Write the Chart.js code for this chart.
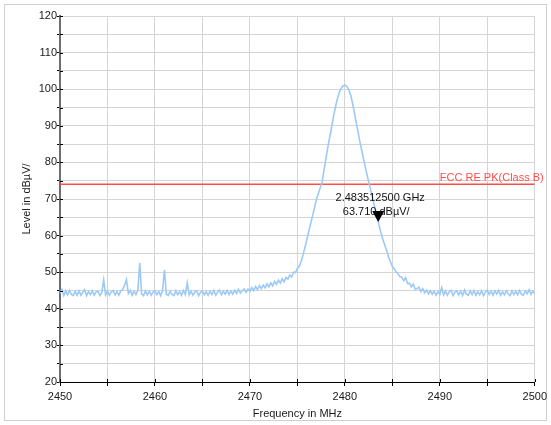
<!DOCTYPE html>
<html>
<head>
<meta charset="utf-8">
<script src="https://cdn.jsdelivr.net/npm/chart.js"></script>
<style>
  html, body { margin: 0; padding: 0; background: #fff; }
  #wrap { width: 551px; height: 425px; }
</style>
</head>
<body>
<div id="wrap"><canvas id="spectrum"></canvas></div>
<script>
// sweep: 2450 MHz .. 2500 MHz, one reading every 0.2 MHz
const startMHz = 2450;
const stepMHz = 0.2;

const levels = [
  44.2, 45.3, 43.6, 44.9, 43.8, 45.0, 43.9, 43.6, 44.8, 43.7,
  44.9, 43.7, 44.5, 45.2, 43.6, 44.7, 43.9, 44.9, 43.7, 44.6,
  44.8, 43.6, 44.4, 47.9, 43.8, 44.9, 43.7, 44.6, 45.0, 43.8,
  44.7, 43.7, 44.9, 45.3, 46.4, 48.0, 44.2, 45.0, 43.7, 44.8,
  43.9, 45.0, 52.6, 44.0, 43.6, 44.9, 43.8, 44.8, 43.7, 44.6,
  44.9, 43.8, 44.7, 43.6, 44.9, 50.6, 44.0, 43.7, 44.8, 43.9,
  43.6, 44.9, 43.8, 44.7, 43.7, 45.0, 43.9, 47.1, 43.8, 44.8,
  43.7, 44.6, 44.9, 43.6, 44.5, 44.9, 43.8, 44.7, 43.7, 44.8,
  43.9, 45.0, 43.7, 44.6, 45.1, 43.8, 44.8, 44.0, 45.0, 43.9,
  44.8, 44.0, 45.1, 44.2, 45.3, 44.3, 45.0, 45.4, 44.5, 45.4,
  44.8, 45.8, 45.0, 46.1, 45.2, 46.3, 45.5, 46.5, 45.7, 46.8,
  46.0, 47.1, 46.3, 47.5, 46.7, 47.8, 47.0, 48.2, 47.4, 48.6,
  48.1, 49.2, 48.7, 50.0, 49.9, 51.0, 51.6, 53.0, 54.8, 56.8,
  59.0, 61.2, 63.3, 65.4, 67.6, 69.9, 71.5, 73.0, 74.5, 77.8,
  81.0, 84.0, 86.8, 89.6, 92.5, 95.0, 97.3, 99.0, 100.2, 100.9,
  101.1, 100.8, 99.9, 98.5, 96.3, 93.7, 90.8, 88.2, 85.4, 82.9,
  80.5, 78.1, 75.9, 73.8, 71.6, 69.4, 67.2, 65.0, 62.8, 60.8,
  59.0, 57.4, 55.9, 54.2, 52.8, 51.6, 50.9, 50.1, 49.6, 48.8,
  48.6, 47.7, 48.5, 46.9, 47.0, 46.0, 46.8, 45.4, 45.5, 45.9,
  44.7, 45.5, 44.4, 45.1, 44.1, 44.9, 44.0, 44.8, 43.7, 44.7,
  43.9, 45.8, 43.8, 44.9, 43.7, 44.7, 45.0, 43.6, 44.6, 44.9,
  43.8, 44.8, 43.6, 45.1, 44.0, 43.7, 44.9, 43.9, 45.0, 43.7,
  44.7, 43.8, 44.9, 43.6, 44.6, 45.1, 43.9, 44.8, 43.7, 44.9,
  44.0, 45.0, 43.7, 44.7, 43.8, 44.9, 44.1, 43.6, 44.9, 43.9,
  44.8, 43.8, 45.0, 44.0, 43.7, 44.9, 44.1, 45.2, 43.9, 44.8,
  44.2
];

// limit line
const limitName = 'FCC RE PK(Class B)';
const limitLevel = 74;

// marker
const markerFreq = 2483.5125;   // MHz
const markerLevel = 63.71;
const markerLabels = ['2.483512500 GHz', '63.710 dBµV/'];

const FONT = '11px "Liberation Sans", Arial, sans-serif';

const traceData = levels.map((v, i) => ({ x: startMHz + i * stepMHz, y: v }));

// frame round the whole picture + inner tick marks + limit label + marker
const extrasPlugin = {
  id: 'extras',
  beforeDraw(chart) {
    const ctx = chart.ctx;
    ctx.save();
    ctx.fillStyle = '#fff';
    ctx.fillRect(0, 0, chart.width, chart.height);
    ctx.strokeStyle = '#cfcfcf';
    ctx.lineWidth = 1;
    ctx.strokeRect(4.5, 4.5, chart.width - 9, chart.height - 9);
    ctx.restore();
  },
  afterDatasetsDraw(chart) {
    const ctx = chart.ctx;
    const xs = chart.scales.x, ys = chart.scales.y;
    const area = chart.chartArea;
    ctx.save();

    // short tick marks on the inner side of the axes
    ctx.strokeStyle = '#000';
    ctx.lineWidth = 1;
    ys.ticks.forEach(t => {
      const y = Math.round(ys.getPixelForValue(t.value)) + 0.5;
      ctx.beginPath(); ctx.moveTo(area.left, y); ctx.lineTo(area.left + 3, y); ctx.stroke();
    });
    xs.ticks.forEach(t => {
      const x = Math.round(xs.getPixelForValue(t.value)) + 0.5;
      ctx.beginPath(); ctx.moveTo(x, area.bottom); ctx.lineTo(x, area.bottom - 3); ctx.stroke();
    });

    // limit label
    ctx.font = FONT;
    ctx.fillStyle = '#ff4d4d';
    ctx.textAlign = 'right';
    ctx.textBaseline = 'bottom';
    ctx.fillText(limitName, area.right + 9, ys.getPixelForValue(limitLevel) - 1);

    // marker triangle, tip on the reading
    const mx = xs.getPixelForValue(markerFreq);
    const my = ys.getPixelForValue(markerLevel);
    ctx.fillStyle = '#000';
    ctx.beginPath();
    ctx.moveTo(mx, my);
    ctx.lineTo(mx - 6, my - 11);
    ctx.lineTo(mx + 6, my - 11);
    ctx.closePath();
    ctx.fill();

    ctx.fillStyle = '#111';
    ctx.textAlign = 'center';
    ctx.textBaseline = 'middle';
    ctx.fillText(markerLabels[0], mx + 2, my - 24);
    ctx.fillText(markerLabels[1], mx - 2, my - 10);
    ctx.restore();
  }
};

new Chart(document.getElementById('spectrum'), {
  type: 'line',
  data: {
    datasets: [
      {
        label: 'Level',
        data: traceData,
        borderColor: '#9ccaf7',
        borderWidth: 1.6,
        pointRadius: 0,
        tension: 0,
        fill: false
      },
      {
        label: limitName,
        data: [{ x: startMHz, y: limitLevel }, { x: 2500, y: limitLevel }],
        borderColor: '#ff4d4d',
        borderWidth: 1.5,
        pointRadius: 0,
        fill: false
      }
    ]
  },
  options: {
    responsive: true,
    maintainAspectRatio: false,
    animation: false,
    layout: { padding: { left: 16, top: 16, right: 15, bottom: 0 } },
    plugins: {
      legend: { display: false },
      tooltip: { enabled: false }
    },
    scales: {
      x: {
        type: 'linear',
        min: 2450,
        max: 2500,
        afterFit: s => { s.height = 43; },
        ticks: {
          stepSize: 5,
          autoSkip: false,
          maxRotation: 0,
          padding: 4,
          color: '#1a1a1a',
          font: { family: '"Liberation Sans", Arial, sans-serif', size: 11 },
          callback: v => (v % 10 === 0 ? String(v) : '')
        },
        grid: { color: '#d4d4d4', tickColor: '#000', tickLength: 4 },
        border: { color: '#000', width: 1 },
        title: {
          display: true,
          text: 'Frequency in MHz',
          color: '#1a1a1a',
          padding: { top: 2, bottom: 4 },
          font: { family: '"Liberation Sans", Arial, sans-serif', size: 11 }
        }
      },
      y: {
        min: 20,
        max: 120,
        afterFit: s => { s.width = 44; },
        ticks: {
          stepSize: 5,
          autoSkip: false,
          padding: 0,
          color: '#1a1a1a',
          font: { family: '"Liberation Sans", Arial, sans-serif', size: 11 },
          callback: v => (v % 10 === 0 ? String(v) : '')
        },
        grid: { color: '#d4d4d4', tickColor: '#000', tickLength: 3 },
        border: { color: '#6e6e6e', width: 2 },
        title: {
          display: true,
          text: 'Level in dBµV/',
          color: '#1a1a1a',
          padding: { top: 4, bottom: 4 },
          font: { family: '"Liberation Sans", Arial, sans-serif', size: 11 }
        }
      }
    }
  },
  plugins: [extrasPlugin]
});
</script>
</body>
</html>
